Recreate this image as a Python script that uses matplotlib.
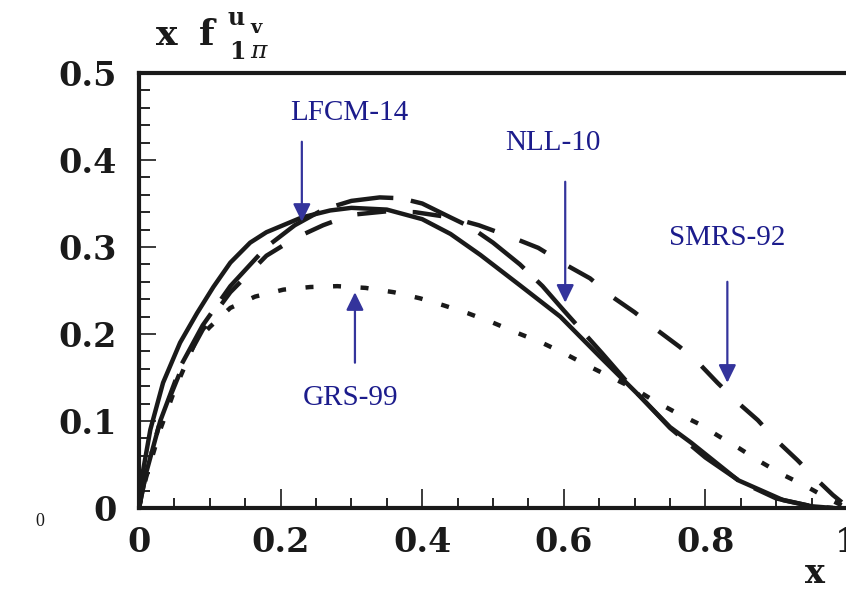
import matplotlib
matplotlib.use("Agg")
import matplotlib.pyplot as plt
from matplotlib.ticker import FixedLocator, MultipleLocator

# LFCM-14 (solid)
lfcm_x = [0, 0.006, 0.016, 0.034, 0.058, 0.082, 0.105, 0.129, 0.157, 0.18, 0.23, 0.27, 0.30,
          0.35, 0.40, 0.44, 0.482, 0.538, 0.595, 0.651, 0.708, 0.75, 0.78, 0.846, 0.91, 0.95, 0.98]
lfcm_y = [0, 0.044, 0.09, 0.144, 0.19, 0.224, 0.254, 0.282, 0.305, 0.317, 0.334, 0.342, 0.345,
          0.343, 0.332, 0.315, 0.291, 0.256, 0.220, 0.174, 0.128, 0.093, 0.075, 0.032, 0.009, 0.002, 0.0]

# NLL-10 (long dash)
nll_x = [0, 0.01, 0.03, 0.06, 0.09, 0.129, 0.18, 0.22, 0.26, 0.30, 0.34, 0.37, 0.40, 0.44,
         0.468, 0.50, 0.538, 0.57, 0.60, 0.654, 0.70, 0.75, 0.80, 0.85, 0.90, 0.95, 0.98]
nll_y = [0, 0.04, 0.10, 0.165, 0.21, 0.255, 0.300, 0.325, 0.343, 0.353, 0.357, 0.356, 0.350, 0.334,
         0.323, 0.305, 0.280, 0.255, 0.227, 0.178, 0.135, 0.092, 0.058, 0.030, 0.011, 0.002, 0.0]

# SMRS-92 (dash)
smrs_x = [0, 0.01, 0.03, 0.06, 0.09, 0.129, 0.18, 0.22, 0.26, 0.30, 0.35, 0.39, 0.44, 0.48,
          0.527, 0.564, 0.604, 0.637, 0.668, 0.70, 0.731, 0.764, 0.79, 0.817, 0.846, 0.874,
          0.90, 0.93, 0.953, 0.98, 0.995]
smrs_y = [0, 0.04, 0.10, 0.16, 0.205, 0.248, 0.290, 0.31, 0.325, 0.337, 0.341, 0.340, 0.334, 0.325,
          0.311, 0.299, 0.279, 0.264, 0.243, 0.225, 0.205, 0.185, 0.167, 0.144, 0.121, 0.101,
          0.078, 0.055, 0.036, 0.015, 0.005]

# GRS-99 (dotted)
grs_x = [0, 0.01, 0.03, 0.05, 0.079, 0.10, 0.129, 0.164, 0.204, 0.242, 0.28, 0.32, 0.36, 0.397,
         0.43, 0.464, 0.50, 0.535, 0.569, 0.60, 0.633, 0.665, 0.70, 0.726, 0.76, 0.79, 0.82,
         0.847, 0.878, 0.91, 0.94, 0.973, 1.0]
grs_y = [0, 0.035, 0.09, 0.135, 0.19, 0.208, 0.23, 0.243, 0.251, 0.254, 0.255, 0.253, 0.248, 0.241,
         0.233, 0.224, 0.213, 0.201, 0.19, 0.178, 0.164, 0.151, 0.137, 0.124, 0.109, 0.097, 0.082,
         0.069, 0.053, 0.038, 0.026, 0.011, 0.0]

xticks = [0, 0.2, 0.4, 0.6, 0.8, 1.0]
xtick_labels = ['0', '0.2', '0.4', '0.6', '0.8', '1']
yticks = [0, 0.1, 0.2, 0.3, 0.4, 0.5]
ytick_labels = ['0', '0.1', '0.2', '0.3', '0.4', '0.5']

# labels: (text, text pos, arrow tail, arrow tip)
labels = [
    ('LFCM-14', (0.297, 0.454), (0.230, 0.421), (0.230, 0.329)),
    ('NLL-10', (0.585, 0.420), (0.602, 0.375), (0.602, 0.236)),
    ('SMRS-92', (0.831, 0.310), (0.831, 0.260), (0.831, 0.144)),
    ('GRS-99', (0.299, 0.126), (0.305, 0.167), (0.305, 0.248)),
]

W, H = 846, 589
fig = plt.figure(figsize=(W / 100, H / 100), dpi=100)
ax = fig.add_axes([139 / W, (H - 508) / H, (847 - 139) / W, (508 - 73) / H])

lw = 3.2
ax.plot(lfcm_x, lfcm_y, color='#1a1a1a', lw=lw)
ax.plot(nll_x, nll_y, color='#1a1a1a', lw=lw, dashes=(13, 4), dash_capstyle='butt')
ax.plot(smrs_x, smrs_y, color='#1a1a1a', lw=lw, dashes=(6.5, 6), dash_capstyle='butt')
ax.plot(grs_x, grs_y, color='#1a1a1a', lw=lw, dashes=(1.8, 4.4), dash_capstyle='butt')

ax.set_xlim(0, 1)
ax.set_ylim(0, 0.5)

for s in ['left', 'bottom', 'top']:
    ax.spines[s].set_linewidth(3)
    ax.spines[s].set_color('#1a1a1a')
ax.spines['right'].set_visible(False)

ax.xaxis.set_major_locator(FixedLocator(xticks))
ax.set_xticklabels(xtick_labels)
ax.xaxis.set_minor_locator(MultipleLocator(0.05))
ax.yaxis.set_major_locator(FixedLocator(yticks))
ax.set_yticklabels(ytick_labels)
ax.yaxis.set_minor_locator(MultipleLocator(0.02))

ax.tick_params(axis='x', which='major', direction='in', length=14, width=1.2, pad=13,
               colors='#1a1a1a', top=False)
ax.tick_params(axis='x', which='minor', direction='in', length=7, width=1.2, top=False)
ax.tick_params(axis='y', which='major', direction='in', length=12, width=1.2, pad=16,
               colors='#1a1a1a', right=False)
ax.tick_params(axis='y', which='minor', direction='in', length=8, width=1.2, right=False)
for t in ax.get_xticklabels() + ax.get_yticklabels():
    t.set_fontfamily('DejaVu Serif')
    t.set_fontweight('bold')
    t.set_fontsize(24)

for txt, tpos, tail, tip in labels:
    ax.text(tpos[0], tpos[1], txt, color='#1c1c8c', fontsize=21, family='Liberation Serif',
            ha='center', va='center')
    ax.annotate('', xy=tip, xytext=tail,
                arrowprops=dict(arrowstyle='-|>,head_length=0.45,head_width=0.22',
                                mutation_scale=24, color='#34349c', lw=1.6,
                                shrinkA=0, shrinkB=0))

# y axis title  x f_{1 pi}^{u_v}, built from pieces
def ftext(px, py, s, size, **kw):
    kw.setdefault('family', 'DejaVu Serif')
    kw.setdefault('fontweight', 'bold')
    fig.text(px / W, (H - py) / H, s, fontsize=size, ha='left', va='baseline',
             color='#1a1a1a', **kw)

ftext(156, 45, 'x', 26)
ftext(199, 45, 'f', 26)
ftext(227, 25, 'u', 17)
ftext(250, 33, 'v', 14)
ftext(229, 59, '1', 17)
ftext(250, 58, 'π', 18, fontweight='normal', style='italic')

fig.text(815 / W, (H - 583) / H, 'x', fontsize=24, family='DejaVu Serif', fontweight='bold',
         ha='center', va='baseline', color='#1a1a1a')
fig.text(40 / W, (H - 521) / H, '0', fontsize=13, family='Liberation Serif',
         ha='center', va='center', color='#1a1a1a')

fig.savefig('out.png', dpi=100)
